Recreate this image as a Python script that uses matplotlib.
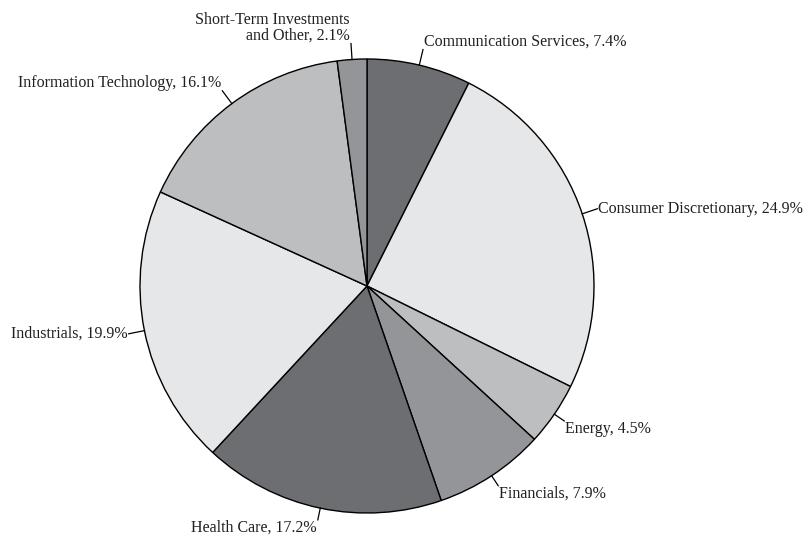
import matplotlib
matplotlib.use("Agg")
import matplotlib.pyplot as plt
import numpy as np

# sector weights, clockwise from 12 o'clock
sectors = ["Communication Services", "Consumer Discretionary", "Energy",
           "Financials", "Health Care", "Industrials",
           "Information Technology", "Short-Term Investments\nand Other"]
weights = [7.4, 24.9, 4.5, 7.9, 17.2, 19.9, 16.1, 2.1]
shades = ["#6d6e71", "#e6e7e8", "#bcbec0", "#939598",
          "#6d6e71", "#e6e7e8", "#bcbec0", "#939598"]

W, H = 807, 537
cx, cy, R = 367, H - 286, 227

fig = plt.figure(figsize=(W / 100, H / 100), dpi=100)
ax = fig.add_axes([0, 0, 1, 1])

wedges, _ = ax.pie(weights, colors=shades, startangle=90, counterclock=False,
                   center=(cx, cy), radius=R,
                   wedgeprops=dict(edgecolor="black", linewidth=1.0))
# pie resets the limits, so set them afterwards
ax.set_xlim(0, W)
ax.set_ylim(0, H)
ax.set_aspect("equal")
ax.axis("off")

for w, name, val in zip(wedges, sectors, weights):
    ang = np.deg2rad((w.theta1 + w.theta2) / 2)
    c, s = np.cos(ang), np.sin(ang)
    lead = 12 if s < -0.5 else 16
    x0, y0 = cx + R * c, cy + R * s
    x1, y1 = cx + (R + lead) * c, cy + (R + lead) * s
    ax.plot([x0, x1], [y0, y1], color="black", lw=0.9)
    ha = "left" if c > 0 else "right"
    if s > 0.5:
        va = "bottom"
    elif s < -0.5:
        va = "top"
    else:
        va = "center"
    ax.text(x1 + (1 if c > 0 else -1), y1, f"{name}, {val}%", ha=ha, va=va,
            multialignment="right", fontsize=11.5, family="Liberation Serif",
            color="#231f20", linespacing=1.0)

fig.savefig("out.png", dpi=100)
